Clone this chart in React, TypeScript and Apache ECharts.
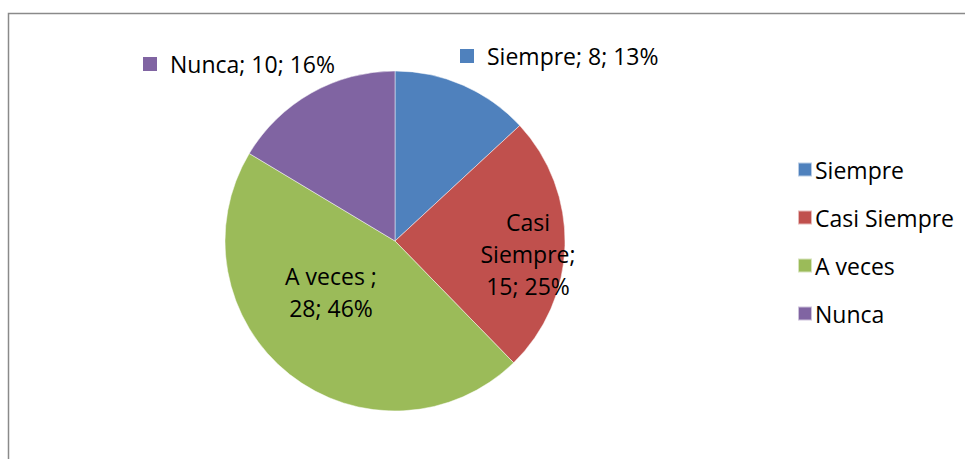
import React, { useEffect, useRef } from "react";
import * as echarts from "echarts";

const categories = ["Siempre", "Casi Siempre", "A veces", "Nunca"];
const values = [8, 15, 28, 10];
const colors = ["#4F81BD", "#C0504D", "#9BBB59", "#8064A2"];

const FONT = "'Open Sans', 'Noto Sans', sans-serif";
const FS = 23;

export default function App() {
  const ref = useRef<HTMLDivElement>(null);
  useEffect(() => {
    if (!ref.current) return;
    const chart = echarts.init(ref.current, null, { renderer: "svg" });
    const labelPos: Record<number, any> = {
      0: { x: 460, y: 56, align: "left", verticalAlign: "middle" },
      1: { x: 528, y: 254, align: "center", verticalAlign: "middle" },
      2: { x: 331, y: 292, align: "center", verticalAlign: "middle" },
      3: { x: 143, y: 64, align: "left", verticalAlign: "middle" },
    };
    chart.setOption({
      animation: false,
      color: colors,
      textStyle: { fontFamily: FONT },
      graphic: [
        {
          type: "rect",
          shape: { x: 8.5, y: 13.5, width: 1200, height: 800 },
          style: { fill: "none", stroke: "#8a8a8a", lineWidth: 1.5 },
          silent: true,
        },
      ],
      legend: {
        orient: "vertical",
        left: 792,
        top: 153,
        itemWidth: 14,
        itemHeight: 14,
        itemGap: 25,
        icon: "rect",
        data: categories,
        textStyle: { fontSize: FS, lineHeight: 23, color: "#000", fontFamily: FONT, padding: [0, 0, 0, -2] },
      },
      series: [
        {
          type: "pie",
          center: [395, 241],
          radius: 170,
          startAngle: 90,
          clockwise: true,
          itemStyle: { borderColor: "rgba(255,255,255,0.6)", borderWidth: 0.8 },
          emphasis: { disabled: true },
          labelLine: { show: false },
          labelLayout: (p: any) => labelPos[p.dataIndex],
          label: {
            show: true,
            color: "#000",
            fontSize: FS,
            fontFamily: FONT,
            lineHeight: 32,
            formatter: (p: any) => {
              const i = p.dataIndex;
              const pct = Math.round(p.percent) + "%";
              if (i === 0 || i === 3) {
                return `{sq${i}|}{t|${p.name}; ${p.value}; ${pct}}`;
              }
              if (i === 1) {
                const parts = p.name.split(" ");
                return `${parts[0]}\n${parts[1]};\n${p.value}; ${pct}`;
              }
              return `${p.name} ;\n${p.value}; ${pct}`;
            },
            rich: {
              sq0: { width: 14, height: 14, backgroundColor: colors[0] },
              sq3: { width: 14, height: 14, backgroundColor: colors[3] },
              t: { fontSize: FS, color: "#000", fontFamily: FONT, padding: [0, 0, 0, 13] },
            },
          },
          data: categories.map((c, i) => ({ name: c, value: values[i] })),
        },
      ],
    });
    return () => chart.dispose();
  }, []);
  return (
    <div
      ref={ref}
      style={{ position: "fixed", left: 0, top: 0, width: 965, height: 459, background: "#fff" }}
    />
  );
}
